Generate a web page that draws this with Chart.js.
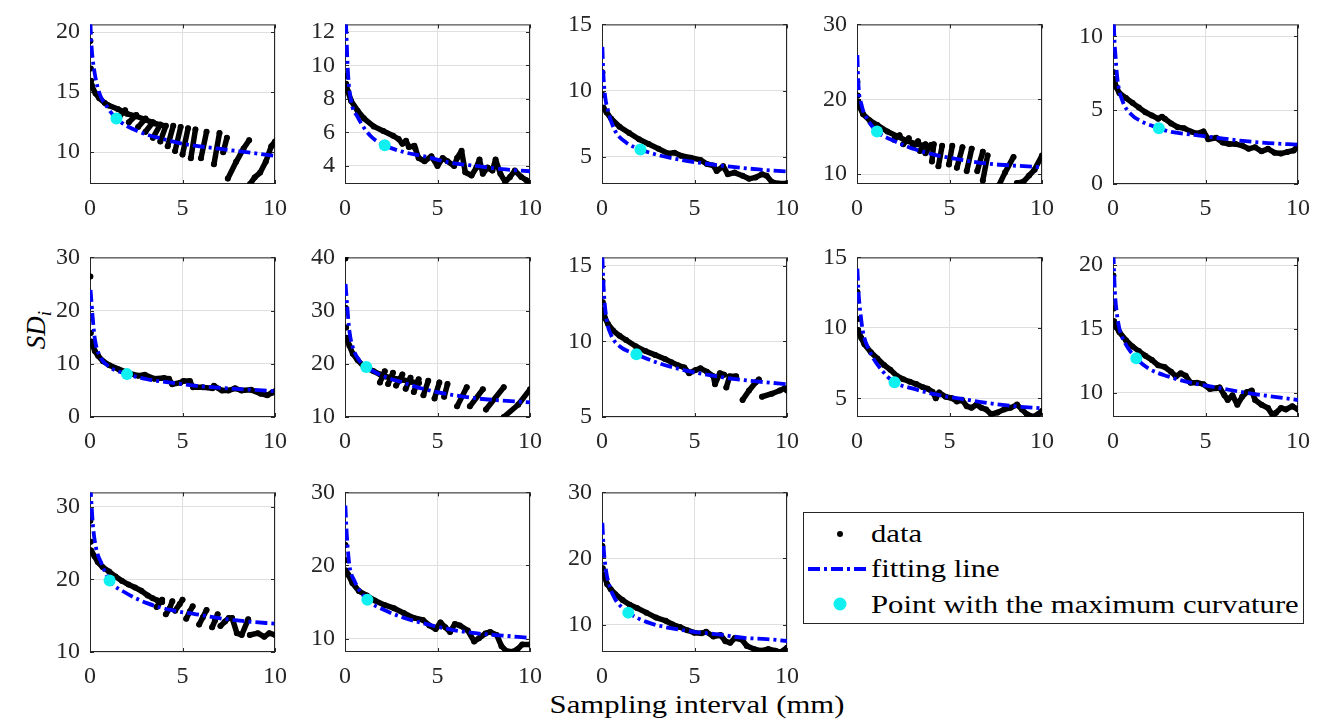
<!DOCTYPE html>
<html>
<head>
<meta charset="utf-8">
<script src="https://cdn.jsdelivr.net/npm/chart.js@4/dist/chart.umd.min.js"></script>
<style>
  body { margin: 0; background: #fff; width: 1339px; height: 728px; position: relative; overflow: hidden;
         font-family: "Liberation Serif", "Times New Roman", serif; color: #000; }
  canvas { position: absolute; }
  #xlabel { position: absolute; left: 697px; top: 692px; font-size: 26px; line-height: 26px; white-space: nowrap;
            transform: translateX(-50%) scaleX(1.18); }
  #ylabel { position: absolute; left: -14px; top: 315px; width: 100px; height: 30px; line-height: 30px; font-size: 27px;
            text-align: center; transform: rotate(-90deg); font-style: italic; }
  #ylabel sub { font-size: 19px; }
  #legend { position: absolute; left: 803px; top: 512px; width: 501px; height: 112px; box-sizing: border-box;
            border: 1px solid #262626; background: #fff; }
  #legend svg { position: absolute; left: -1px; top: -1px; }
  .lt { position: absolute; left: 67px; font-size: 26px; line-height: 26px; white-space: nowrap;
        transform: scaleX(1.18); transform-origin: left center; }
</style>
</head>
<body>
<div id="xlabel">Sampling interval (mm)</div>
<div id="ylabel">SD<sub>i</sub></div>
<div id="legend">
  <svg width="501" height="112">
    <circle cx="37" cy="22" r="3" fill="#000"/>
    <line x1="5" y1="57" x2="67" y2="57" stroke="#0000ff" stroke-width="3.8" stroke-dasharray="12 4 3 4"/>
    <circle cx="37" cy="92" r="6.5" fill="#10f0f0"/>
  </svg>
  <span class="lt" style="top:8px">data</span>
  <span class="lt" style="top:43px">fitting line</span>
  <span class="lt" style="top:79px">Point with the maximum curvature</span>
</div>
<script>
// ---- values: strokes of data points, fitted curve, knee point ----
const xTicks = [0, 5, 10];

const p1Data = [
  [[0.02, 19.26]], [[0.04, 16.97]], [[0.06, 15.96]],
  [[0.08, 15.6], [0.1, 15.5], [0.3, 14.9], [0.5, 14.5], [0.8, 14.1], [1.0, 13.9], [1.5, 13.6], [2.0, 13.2], [2.5, 13.0], [3.0, 12.7], [3.5, 12.4], [4.0, 12.2]],
  [[1.6, 13.0], [1.9, 13.5]], [[2.1, 12.5], [2.5, 13.1]], [[2.6, 12.1], [3.0, 12.8]], [[3.0, 11.7], [3.4, 12.5]],
  [[3.4, 11.2], [3.8, 12.3]], [[3.8, 10.9], [4.1, 12.2]],
  [[4.2, 10.5], [4.5, 12.2]], [[4.6, 10.1], [4.9, 12.1]], [[5.0, 9.8], [5.3, 12.0]], [[5.45, 9.5], [5.7, 11.9]],
  [[6.0, 9.5], [6.3, 11.7]], [[6.7, 9.0], [7.0, 11.6]], [[7.2, 10.0], [7.4, 11.2]],
  [[7.45, 7.8], [7.9, 9.2], [8.3, 10.3], [8.6, 11.0]],
  [[8.65, 7.35], [8.9, 7.9], [9.2, 8.3], [9.5, 9.2], [9.8, 10.5], [10.0, 10.9]]
];
const p1Fit = [[0.02, 20.8], [0.08, 18.9], [0.15, 17.7], [0.43, 15.3], [0.96, 13.7], [1.43, 12.8], [2.6, 11.74], [4.0, 11.08], [5.05, 10.69], [6.97, 10.29], [10.0, 9.7]];
const p1Knee = [1.43, 12.8];
const p1Range = [7.35, 20.65];
const p1Ticks = [10, 15, 20];

const p2Data = [
  [[0.02, 10.75]], [[0.04, 9.35]],
  [[0.06, 8.9], [0.16, 8.44], [0.33, 7.88], [0.68, 7.3], [1.02, 6.84], [1.55, 6.36], [2.07, 6.08], [2.6, 5.8], [2.9, 5.6], [3.1, 5.32], [3.3, 5.5], [3.45, 5.13], [3.75, 5.2], [3.8, 5.04], [3.98, 4.47], [4.3, 4.28], [4.67, 4.57], [5.0, 4.0], [5.28, 4.47], [5.54, 4.28], [5.9, 4.0], [6.06, 4.47], [6.3, 4.9], [6.5, 3.62], [6.84, 3.43], [7.1, 3.9], [7.27, 4.38], [7.45, 3.53], [7.7, 3.9], [7.97, 3.72], [8.14, 4.38], [8.4, 3.53], [8.66, 3.05], [8.92, 3.34], [9.18, 3.72], [9.53, 3.34], [9.8, 3.15], [10.0, 2.96]]
];
const p2Fit = [[0.05, 12.6], [0.16, 9.58], [0.33, 7.88], [0.68, 6.93], [1.37, 5.8], [2.15, 5.23], [3.1, 4.85], [4.3, 4.57], [5.7, 4.19], [7.1, 4.0], [8.5, 3.81], [10.0, 3.68]];
const p2Knee = [2.15, 5.23];
const p2Range = [2.92, 12.45];
const p2Ticks = [4, 6, 8, 10, 12];

const p3Data = [
  [[0.02, 11.39]], [[0.04, 9.67]],
  [[0.08, 8.7], [0.25, 8.35], [0.5, 7.87], [0.95, 7.27], [1.47, 6.79], [2.0, 6.32], [2.52, 5.96], [3.05, 5.6], [3.57, 5.24], [3.92, 5.31], [4.27, 5.07], [4.8, 4.93], [5.32, 4.76], [5.67, 4.45], [6.02, 4.33], [6.2, 3.92], [6.55, 4.28], [6.8, 3.68], [7.16, 3.8], [7.6, 3.56], [7.95, 3.33], [8.3, 3.44], [8.65, 3.68], [8.9, 3.56], [9.18, 3.09], [9.53, 2.97], [9.96, 2.97]]
];
const p3Fit = [[0.02, 13.3], [0.07, 11.34], [0.16, 9.67], [0.33, 8.47], [0.68, 7.03], [1.3, 6.08], [2.08, 5.55], [3.05, 5.12], [4.27, 4.76], [5.67, 4.47], [7.07, 4.23], [8.47, 4.04], [10.0, 3.88]];
const p3Knee = [2.08, 5.55];
const p3Range = [2.94, 15];
const p3Ticks = [5, 10, 15];

const p4Data = [
  [[0.02, 22.35]], [[0.04, 20.49]],
  [[0.06, 19.7], [0.16, 18.9], [0.33, 18.0], [0.68, 17.2], [1.1, 16.55], [1.64, 15.7], [2.17, 15.07], [2.7, 14.44], [3.2, 14.0], [3.74, 13.8]],
  [[2.0, 14.6], [2.3, 15.2]], [[2.5, 14.0], [2.8, 14.8]], [[3.0, 13.6], [3.3, 14.4]], [[3.4, 13.1], [3.7, 14.0]], [[3.7, 12.8], [4.0, 13.9]],
  [[4.05, 11.7], [4.15, 14.0]], [[4.4, 11.06], [4.6, 13.8]], [[4.97, 11.3], [5.15, 13.8]], [[5.4, 10.85], [5.7, 13.6]],
  [[5.93, 10.4], [6.2, 13.4]], [[6.5, 10.4], [6.8, 13.0]], [[6.8, 9.15], [7.06, 12.5]],
  [[7.67, 8.5], [8.0, 10.2], [8.46, 12.3]],
  [[8.64, 8.8], [9.0, 9.0], [9.3, 9.8], [9.6, 10.6], [10.0, 12.5]]
];
const p4Fit = [[0.02, 25.9], [0.07, 22.26], [0.24, 19.3], [0.5, 17.6], [1.08, 15.7], [2.0, 14.44], [3.04, 13.38], [4.27, 12.54], [5.66, 11.9], [7.06, 11.4], [8.46, 11.14], [10.0, 10.93]];
const p4Knee = [1.08, 15.7];
const p4Range = [8.68, 30];
const p4Ticks = [10, 20, 30];

const p5Data = [
  [[0.02, 8.82]], [[0.04, 7.57]],
  [[0.06, 7.1], [0.17, 6.57], [0.35, 6.14], [0.7, 5.82], [1.05, 5.49], [1.4, 5.17], [1.75, 4.85], [2.1, 4.64], [2.44, 4.42], [2.65, 4.55], [2.8, 4.42], [3.14, 4.1], [3.5, 3.84], [3.84, 3.78], [4.19, 3.56], [4.54, 3.41], [4.89, 3.56], [5.15, 3.03], [5.58, 3.13], [5.93, 2.81], [6.28, 2.7], [6.63, 2.7], [6.98, 2.6], [7.33, 2.38], [7.68, 2.49], [8.03, 2.21], [8.38, 2.38], [8.73, 2.12], [9.08, 2.06], [9.43, 2.17], [9.77, 2.27], [10.0, 2.6]]
];
const p5Fit = [[0.03, 12.4], [0.05, 10.8], [0.14, 8.6], [0.26, 6.89], [0.52, 5.6], [0.96, 4.74], [1.6, 4.2], [2.48, 3.78], [3.0, 3.56], [4.2, 3.35], [5.6, 3.13], [7.0, 2.92], [8.4, 2.77], [10.0, 2.66]];
const p5Knee = [2.48, 3.78];
const p5Range = [0, 10.8];
const p5Ticks = [0, 5, 10];

const p6Data = [
  [[0.02, 26.4]], [[0.04, 15.77]],
  [[0.06, 14.17], [0.26, 12.4], [0.44, 11.5], [0.7, 10.5], [1.05, 9.72], [1.57, 8.95], [2.09, 8.24], [2.6, 7.77], [2.96, 7.94], [3.48, 7.17], [4.0, 7.35], [4.27, 7.17], [4.44, 6.17], [4.88, 6.46], [5.05, 6.76], [5.4, 6.76], [5.57, 5.57], [6.1, 5.57], [6.62, 5.39], [6.7, 5.87], [7.14, 4.98], [7.49, 4.98], [7.84, 5.39], [8.19, 4.98], [8.71, 5.1], [9.23, 4.39], [9.58, 4.09], [9.84, 4.56], [10.0, 4.86]]
];
const p6Fit = [[0.03, 23.9], [0.14, 18.9], [0.26, 14.76], [0.52, 11.5], [1.05, 9.43], [2.0, 8.06], [3.14, 7.05], [4.36, 6.46], [5.75, 5.87], [7.14, 5.45], [8.54, 5.16], [10.0, 4.86]];
const p6Knee = [2.0, 8.06];
const p6Range = [0, 30];
const p6Ticks = [0, 10, 20, 30];

const p7Data = [
  [[0.02, 39.8]], [[0.04, 30.5]], [[0.06, 26.8]],
  [[0.08, 24.9], [0.24, 23.4], [0.42, 21.9], [0.68, 20.7], [1.02, 19.5], [1.55, 18.6], [1.9, 18.0], [2.2, 17.6], [2.6, 17.3], [3.1, 17.0], [3.6, 16.6], [4.0, 16.4]],
  [[1.89, 16.5], [2.15, 18.6]], [[2.33, 16.2], [2.59, 18.3]], [[2.76, 15.9], [3.1, 18.0]], [[3.28, 15.3], [3.54, 17.4]],
  [[3.72, 14.7], [3.98, 17.1]], [[4.24, 14.1], [4.5, 16.8]], [[4.84, 13.5], [5.1, 16.5]], [[5.36, 13.8], [5.54, 16.2]],
  [[6.06, 12.0], [6.58, 15.6]], [[6.75, 12.0], [7.45, 15.2]], [[7.62, 11.4], [8.58, 15.6]],
  [[8.58, 10.0], [9.36, 12.3], [10.0, 15.2]]
];
const p7Fit = [[0.03, 35.0], [0.12, 30.8], [0.24, 26.1], [0.42, 23.1], [0.76, 20.7], [1.15, 19.4], [2.07, 17.7], [3.1, 16.5], [4.32, 15.2], [5.71, 14.2], [7.1, 13.5], [8.49, 13.1], [10.0, 12.75]];
const p7Knee = [1.15, 19.4];
const p7Range = [10, 40];
const p7Ticks = [10, 20, 30, 40];

const p8Data = [
  [[0.02, 14.0]], [[0.04, 12.6]],
  [[0.06, 12.08], [0.16, 11.55], [0.33, 11.14], [0.6, 10.72], [0.95, 10.37], [1.3, 10.09], [1.82, 9.68], [2.35, 9.36], [2.87, 9.11], [3.4, 8.84], [3.75, 8.63], [4.1, 8.42], [4.45, 8.28], [4.71, 7.9], [5.06, 8.11], [5.32, 8.22], [5.67, 8.0], [6.02, 7.69], [6.11, 7.17], [6.37, 7.9], [6.6, 7.8]],
  [[6.72, 6.96], [6.9, 7.69], [7.25, 7.69]],
  [[7.6, 6.13], [7.95, 6.75], [8.3, 7.28], [8.48, 7.48]],
  [[8.65, 6.34], [9.18, 6.54], [9.61, 6.75], [9.88, 6.9], [10.0, 6.75]]
];
const p8Fit = [[0.02, 15.6], [0.1, 13.3], [0.25, 11.45], [0.5, 10.4], [0.95, 9.68], [1.86, 9.15], [3.05, 8.57], [4.27, 8.15], [5.67, 7.8], [7.08, 7.53], [8.48, 7.34], [10.0, 7.17]];
const p8Knee = [1.86, 9.15];
const p8Range = [5, 15.56];
const p8Ticks = [5, 10, 15];

const p9Data = [
  [[0.02, 12.55]], [[0.04, 10.63]],
  [[0.06, 9.84], [0.23, 9.28], [0.4, 8.83], [0.75, 8.27], [1.1, 7.82], [1.46, 7.36], [1.8, 7.03], [2.16, 6.58], [2.5, 6.35], [2.86, 6.17], [3.2, 6.01], [3.56, 5.79], [3.82, 5.68], [4.09, 5.45], [4.26, 5.0], [4.44, 5.41], [4.79, 5.11], [5.14, 5.0], [5.4, 4.77], [5.67, 4.89], [5.93, 4.44], [6.19, 4.32], [6.46, 4.55], [6.72, 4.32], [6.98, 4.21], [7.25, 3.87], [7.6, 3.99], [7.95, 4.21], [8.3, 4.32], [8.65, 4.55], [8.91, 4.21], [9.18, 3.87], [9.53, 3.69], [9.79, 3.87], [10.0, 4.1]]
];
const p9Fit = [[0.02, 14.2], [0.09, 12.4], [0.2, 10.9], [0.32, 9.73], [0.67, 8.38], [1.46, 6.8], [2.03, 6.13], [3.04, 5.68], [4.26, 5.27], [5.67, 4.95], [7.07, 4.66], [8.47, 4.44], [10.0, 4.28]];
const p9Knee = [2.03, 6.13];
const p9Range = [3.67, 15];
const p9Ticks = [5, 10, 15];

const p10Data = [
  [[0.02, 19.19]], [[0.04, 16.59]],
  [[0.06, 15.6], [0.14, 15.23], [0.35, 14.74], [0.7, 14.12], [1.05, 13.63], [1.4, 13.26], [1.75, 12.89], [2.1, 12.57], [2.44, 12.15], [2.79, 12.02], [3.14, 11.65], [3.4, 11.28], [3.66, 11.53], [3.93, 11.33], [4.19, 10.79], [4.54, 10.79], [4.89, 10.67], [5.24, 10.3], [5.58, 10.35], [5.76, 10.42], [6.02, 9.8], [6.2, 9.43], [6.46, 9.8], [6.72, 9.06], [6.98, 9.68], [7.24, 10.05], [7.5, 10.17], [7.68, 9.43], [8.03, 9.06], [8.38, 8.81], [8.64, 8.2], [8.81, 8.44], [9.08, 8.81], [9.34, 8.69], [9.69, 8.94], [10.0, 8.69]]
];
const p10Fit = [[0.02, 21.0], [0.1, 17.95], [0.21, 16.2], [0.35, 15.0], [0.61, 14.0], [1.26, 12.7], [1.92, 11.9], [2.97, 11.28], [4.19, 10.79], [5.58, 10.42], [6.98, 10.05], [8.38, 9.75], [10.0, 9.43]];
const p10Knee = [1.26, 12.7];
const p10Range = [8.1, 20.6];
const p10Ticks = [10, 15, 20];

const p11Data = [
  [[0.02, 28.1]], [[0.04, 25.2]],
  [[0.06, 24.0], [0.24, 23.2], [0.42, 22.4], [0.68, 21.7], [1.03, 21.1], [1.38, 20.4], [1.73, 19.8], [2.08, 19.3], [2.43, 18.9], [2.77, 18.45], [3.12, 17.8], [3.39, 17.4], [3.65, 17.1], [3.9, 16.9]],
  [[3.6, 16.2], [3.9, 17.2]], [[4.1, 15.2], [4.3, 16.0], [4.45, 17.0]], [[4.6, 15.7], [4.85, 16.6], [5.0, 17.2]],
  [[5.2, 14.6], [5.4, 15.6], [5.55, 16.3]], [[5.9, 13.8], [6.1, 14.8], [6.3, 15.8]], [[6.6, 13.4], [6.75, 14.3], [6.9, 15.2]],
  [[7.05, 13.6], [7.3, 14.2], [7.5, 14.7]],
  [[7.68, 14.7], [7.94, 12.6], [8.2, 12.35], [8.55, 14.5]],
  [[8.64, 12.35], [9.07, 12.6], [9.42, 12.1], [9.69, 12.6], [10.0, 12.35]]
];
const p11Fit = [[0.02, 33.0], [0.16, 27.4], [0.33, 24.3], [0.59, 22.4], [1.06, 19.85], [1.9, 18.2], [3.12, 16.7], [4.35, 15.8], [5.74, 15.2], [7.14, 14.6], [8.53, 14.2], [10.0, 13.9]];
const p11Knee = [1.06, 19.85];
const p11Range = [10, 32];
const p11Ticks = [10, 20, 30];

const p12Data = [
  [[0.02, 22.8]], [[0.04, 20.7]],
  [[0.06, 19.3], [0.19, 18.7], [0.4, 17.6], [0.75, 16.5], [1.18, 15.9], [1.61, 15.2], [2.13, 14.6], [2.65, 14.15], [3.17, 13.5], [3.69, 12.85], [4.21, 12.55], [4.56, 11.8], [4.9, 11.3], [5.16, 12.2], [5.42, 11.55], [5.68, 10.9], [5.94, 12.0], [6.2, 11.8], [6.64, 11.1], [6.98, 9.6], [7.24, 10.04], [7.59, 10.7], [7.85, 10.9], [8.2, 10.5], [8.46, 8.96], [8.72, 8.3], [9.06, 8.2], [9.32, 8.53], [9.58, 9.18], [10.0, 9.18]]
];
const p12Fit = [[0.02, 28.2], [0.09, 24.5], [0.23, 20.2], [0.49, 18.0], [1.21, 15.3], [2.13, 13.9], [3.17, 12.85], [4.38, 12.0], [5.77, 11.2], [7.16, 10.7], [8.54, 10.4], [10.0, 10.1]];
const p12Knee = [1.21, 15.3];
const p12Range = [8.16, 30];
const p12Ticks = [10, 20, 30];

const p13Data = [
  [[0.02, 21.9]], [[0.04, 18.5]],
  [[0.06, 17.6], [0.13, 17.3], [0.28, 16.1], [0.47, 15.35], [0.72, 14.6], [1.11, 13.7], [1.5, 13.0], [1.89, 12.5], [2.4, 11.8], [2.92, 11.05], [3.44, 10.57], [3.82, 10.0], [4.21, 9.62], [4.6, 9.14], [4.99, 8.76], [5.37, 8.66], [5.63, 8.9], [6.02, 8.19], [6.41, 8.42], [6.67, 7.47], [6.93, 7.23], [7.18, 7.95], [7.57, 7.7], [7.83, 6.75], [8.22, 6.28], [8.6, 6.04], [8.99, 6.28], [9.38, 6.04], [9.64, 5.8], [10.0, 6.5]]
];
const p13Fit = [[0.02, 25.4], [0.08, 22.0], [0.2, 18.5], [0.4, 15.9], [0.7, 13.9], [1.0, 12.8], [1.42, 11.8], [2.4, 10.4], [3.44, 9.6], [5.0, 8.9], [6.3, 8.5], [7.6, 8.0], [8.9, 7.8], [10.0, 7.5]];
const p13Knee = [1.42, 11.8];
const p13Range = [5.84, 30];
const p13Ticks = [10, 20, 30];

const panels = [
  [p1Data, p1Fit, p1Knee, p1Range, p1Ticks], [p2Data, p2Fit, p2Knee, p2Range, p2Ticks],
  [p3Data, p3Fit, p3Knee, p3Range, p3Ticks], [p4Data, p4Fit, p4Knee, p4Range, p4Ticks],
  [p5Data, p5Fit, p5Knee, p5Range, p5Ticks], [p6Data, p6Fit, p6Knee, p6Range, p6Ticks],
  [p7Data, p7Fit, p7Knee, p7Range, p7Ticks], [p8Data, p8Fit, p8Knee, p8Range, p8Ticks],
  [p9Data, p9Fit, p9Knee, p9Range, p9Ticks], [p10Data, p10Fit, p10Knee, p10Range, p10Ticks],
  [p11Data, p11Fit, p11Knee, p11Range, p11Ticks], [p12Data, p12Fit, p12Knee, p12Range, p12Ticks],
  [p13Data, p13Fit, p13Knee, p13Range, p13Ticks]
];

// ---- layout of the 5x3 grid of axes boxes ----
const colLeft = [90, 345, 602, 857, 1113];
const rowTop = [16, 249, 484];
const boxW = 191, boxH = 168;
const padL = 60, padT = 16, padR = 16, padB = 44;

Chart.defaults.font.family = '"Liberation Serif", "Times New Roman", serif';
Chart.defaults.font.size = 24;
Chart.defaults.color = '#262626';

// axes box with inward tick marks, like the original figure
const boxFrame = {
  id: 'boxFrame',
  beforeDatasetsDraw(chart) {
    const { ctx, chartArea: a, scales } = chart;
    ctx.save();
    ctx.strokeStyle = '#262626';
    ctx.lineWidth = 1;
    ctx.beginPath();
    scales.x.ticks.forEach(t => {
      const px = Math.round(scales.x.getPixelForValue(t.value)) + 0.5;
      ctx.moveTo(px, a.bottom); ctx.lineTo(px, a.bottom - 4);
      ctx.moveTo(px, a.top); ctx.lineTo(px, a.top + 4);
    });
    scales.y.ticks.forEach(t => {
      const py = Math.round(scales.y.getPixelForValue(t.value)) + 0.5;
      ctx.moveTo(a.left, py); ctx.lineTo(a.left + 4, py);
      ctx.moveTo(a.right, py); ctx.lineTo(a.right - 4, py);
    });
    ctx.stroke();
    ctx.strokeRect(a.left + 0.5, a.top + 0.5, a.width - 1, a.height - 1);
    ctx.restore();
  }
};

const toPts = arr => arr.map(([x, y]) => ({ x, y }));

panels.forEach(([strokes, fit, knee, range, ticks], i) => {
  const col = i % 5, row = Math.floor(i / 5);
  const canvas = document.createElement('canvas');
  canvas.width = boxW + padL + padR;
  canvas.height = boxH + padT + padB;
  canvas.style.left = (colLeft[col] - padL) + 'px';
  canvas.style.top = (rowTop[row] - padT) + 'px';
  document.body.appendChild(canvas);

  const datasets = [
    {
      label: 'Point with the maximum curvature',
      data: toPts([knee]),
      showLine: false,
      pointRadius: 6,
      pointBackgroundColor: '#10f0f0',
      pointBorderWidth: 0
    },
    {
      label: 'fitting line',
      data: toPts(fit),
      showLine: true,
      borderColor: '#0000ff',
      borderWidth: 3.8,
      borderDash: [12, 4, 3, 4],
      cubicInterpolationMode: 'monotone',
      pointRadius: 0
    }
  ];
  strokes.forEach(s => datasets.push({
    label: 'data',
    data: toPts(s),
    showLine: true,
    borderColor: '#000',
    borderWidth: 5.5,
    borderJoinStyle: 'round',
    borderCapStyle: 'round',
    pointRadius: 3,
    pointBackgroundColor: '#000',
    pointBorderWidth: 0
  }));

  new Chart(canvas, {
    type: 'scatter',
    data: { datasets },
    options: {
      responsive: false,
      animation: false,
      events: [],
      layout: { padding: { top: padT, right: padR, left: 0, bottom: 0 } },
      plugins: { legend: { display: false }, tooltip: { enabled: false } },
      scales: {
        x: {
          type: 'linear', min: 0, max: 10,
          afterBuildTicks: s => { s.ticks = xTicks.map(v => ({ value: v })); },
          afterFit: s => { s.height = padB; },
          grid: { color: '#dfdfdf', drawTicks: false },
          border: { display: false },
          ticks: { padding: 10, maxRotation: 0 }
        },
        y: {
          type: 'linear', min: range[0], max: range[1],
          afterBuildTicks: s => { s.ticks = ticks.map(v => ({ value: v })); },
          afterFit: s => { s.width = padL; },
          grid: { color: '#dfdfdf', drawTicks: false },
          border: { display: false },
          ticks: { padding: 10 }
        }
      }
    },
    plugins: [boxFrame]
  });
});
</script>
</body>
</html>
